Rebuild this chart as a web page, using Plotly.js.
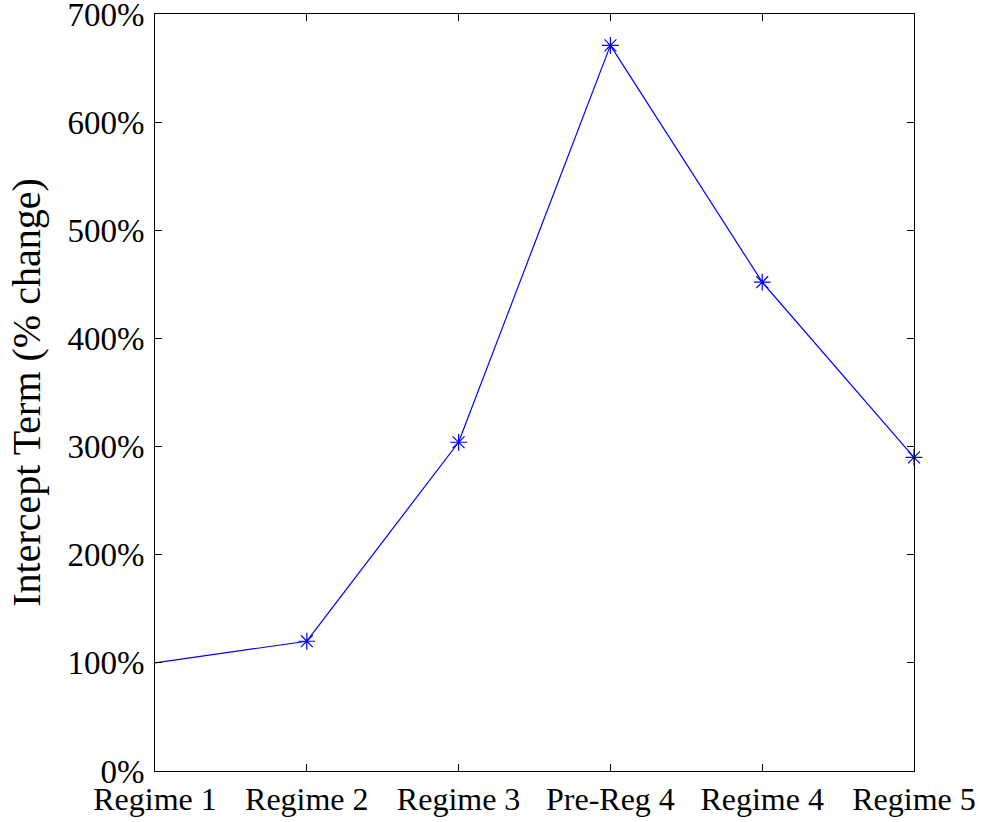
<!DOCTYPE html>
<html>
<head>
<meta charset="utf-8">
<script src="https://cdn.plot.ly/plotly-3.0.1.min.js"></script>
<style>html,body{margin:0;padding:0;background:#fff;}#chart{width:984px;height:822px;}</style>
</head>
<body>
<div id="chart"></div>
<script>
const categories = ["Regime 1", "Regime 2", "Regime 3", "Pre-Reg 4", "Regime 4", "Regime 5"];
const interceptChange = [100, 120, 304, 671, 452, 290];
const yTickValues = [0, 100, 200, 300, 400, 500, 600, 700];
const yTickLabels = ["0%", "100%", "200%", "300%", "400%", "500%", "600%", "700%"];

const fontFamily = "'Liberation Serif', 'DejaVu Serif', serif";

const lineTrace = {
  x: categories,
  y: interceptChange,
  type: "scatter",
  mode: "lines",
  line: {color: "rgb(0,0,255)", width: 1.2},
  hoverinfo: "skip",
  cliponaxis: false
};
const markerTrace = {
  x: categories.slice(1),
  y: interceptChange.slice(1),
  type: "scatter",
  mode: "markers",
  marker: {symbol: "asterisk-open", size: 14, color: "rgb(0,0,255)", line: {color: "rgb(0,0,255)", width: 1.2}},
  cliponaxis: false
};

const layout = {
  width: 984,
  height: 822,
  margin: {l: 155, r: 70, t: 14, b: 51},
  paper_bgcolor: "#fff",
  plot_bgcolor: "#fff",
  showlegend: false,
  font: {family: fontFamily, color: "#000"},
  xaxis: {
    type: "category",
    range: [0, 5],
    showgrid: false,
    zeroline: false,
    showline: true,
    linecolor: "#000",
    linewidth: 1,
    mirror: "ticks",
    ticks: "inside",
    ticklen: 7,
    tickcolor: "#000",
    ticklabeloverflow: "allow",
    tickfont: {family: fontFamily, size: 32, color: "#000"}
  },
  yaxis: {
    range: [0, 700],
    tickvals: yTickValues,
    ticktext: yTickLabels,
    showgrid: false,
    zeroline: false,
    showline: true,
    linecolor: "#000",
    linewidth: 1,
    mirror: "ticks",
    ticks: "inside",
    ticklen: 7,
    tickcolor: "#000",
    ticklabeloverflow: "allow",
    ticklabelstandoff: 3,
    tickfont: {family: fontFamily, size: 33, color: "#000"},
    title: {text: "Intercept Term (% change)", font: {family: fontFamily, size: 40, color: "#000"}, standoff: 14}
  }
};

Plotly.newPlot("chart", [lineTrace, markerTrace], layout, {displayModeBar: false, staticPlot: true});
</script>
</body>
</html>
